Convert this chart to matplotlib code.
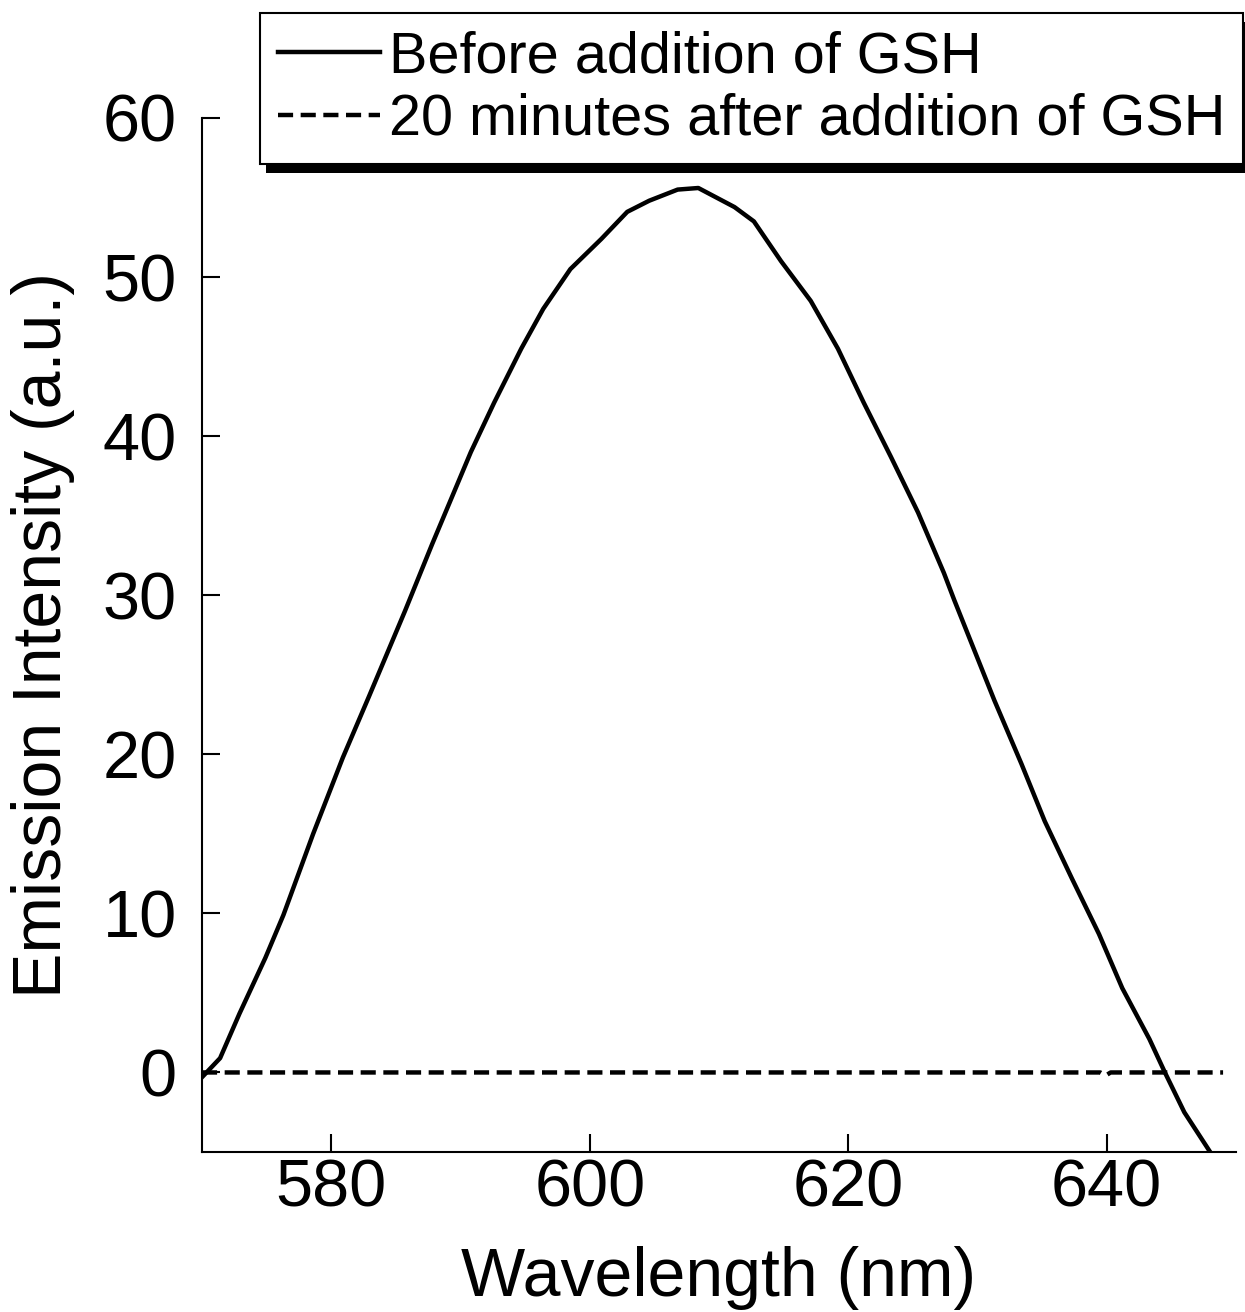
import matplotlib
matplotlib.use("Agg")
import matplotlib.pyplot as plt
from matplotlib.patches import Rectangle

plt.rcParams['font.family'] = ['Liberation Sans', 'DejaVu Sans']

# ---- data ----
wl_before = [570.0, 571.4, 572.9, 574.9, 576.3, 578.6, 580.9, 582.9, 585.7, 587.8,
             590.8, 592.6, 594.7, 596.4, 598.5, 600.9, 602.9, 604.6, 606.8, 608.4,
             611.2, 612.7, 614.8, 617.1, 619.2, 621.2, 623.3, 625.4, 627.4, 628.2,
             631.3, 633.4, 635.2, 637.3, 639.4, 641.2, 643.3, 644.5, 646.0, 648.0]
int_before = [-0.3, 0.9, 3.7, 7.2, 9.9, 15.0, 19.8, 23.6, 29.0, 33.2,
              39.0, 42.1, 45.5, 48.0, 50.5, 52.4, 54.1, 54.8, 55.5, 55.6,
              54.4, 53.5, 51.0, 48.5, 45.5, 42.1, 38.7, 35.2, 31.4, 29.7,
              23.4, 19.4, 15.8, 12.2, 8.7, 5.3, 2.1, 0.0, -2.5, -5.0]

wl_after = [570.0, 639.5, 639.9, 640.3, 649.0]
int_after = [0.0, 0.0, -0.2, 0.0, 0.0]

labels = ["Before addition of GSH", "20 minutes after addition of GSH"]
xticks = [580, 600, 620, 640]
yticks = [0, 10, 20, 30, 40, 50, 60]

fig = plt.figure(figsize=(12.45, 13.12), dpi=100)
ax = fig.add_axes([202/1245, 1 - 1152/1312, (1236-202)/1245, (1152-118)/1312])
ax.set_facecolor('none')

l1, = ax.plot(wl_before, int_before, color='black', lw=3.2, solid_joinstyle='round')
l2, = ax.plot(wl_after, int_after, color='black', lw=3.2, linestyle=(0, (3.4, 1.7)))

ax.set_xlim(570, 650)
ax.set_ylim(-5, 60)
ax.set_xticks(xticks)
ax.set_yticks(yticks)
ax.spines['top'].set_visible(False)
ax.spines['right'].set_visible(False)
for s in ('left', 'bottom'):
    ax.spines[s].set_linewidth(1.5)
ax.tick_params(direction='in', length=13, width=1.5, labelsize=48)
ax.tick_params(axis='x', pad=5)
ax.tick_params(axis='y', pad=18)

ax.set_xlabel("Wavelength (nm)", fontsize=49, labelpad=18)
ax.set_ylabel("Emission Intensity (a.u.)", fontsize=49, labelpad=20)

leg = fig.legend([l1, l2], labels, loc='upper right',
                 bbox_to_anchor=(1243/1245, 1 - 13/1312), bbox_transform=fig.transFigure,
                 borderaxespad=0, fontsize=41.5, frameon=True, fancybox=False,
                 framealpha=1, edgecolor='black', handlelength=1.77,
                 handletextpad=0.17, borderpad=0.3, labelspacing=0.15)
leg.get_frame().set_linewidth(1.5)

fig.canvas.draw()
bb = leg.get_frame().get_window_extent(fig.canvas.get_renderer())
inv = fig.transFigure.inverted()
(x0, y0) = inv.transform((bb.x0 + 6, bb.y0 - 9))
(x1, y1) = inv.transform((bb.x1 + 6, bb.y1 - 9))
shadow = Rectangle((x0, y0), x1 - x0, y1 - y0, transform=fig.transFigure,
                   facecolor='black', edgecolor='none', zorder=4)
fig.add_artist(shadow)

fig.savefig("out.png", dpi=100)
